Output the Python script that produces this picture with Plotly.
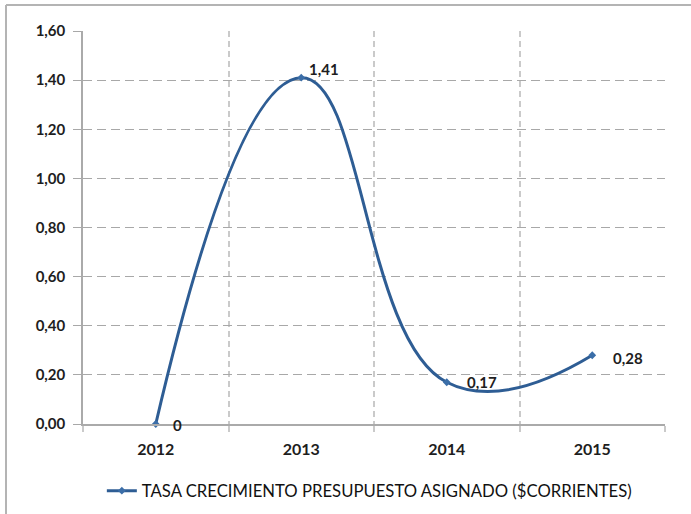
import plotly.graph_objects as go

years = ["2012", "2013", "2014", "2015"]
values = [0.0, 1.41, 0.17, 0.28]
labels = ["0", "1,41", "0,17", "0,28"]
series_name = "TASA CRECIMIENTO PRESUPUESTO ASIGNADO ($CORRIENTES)"
y_ticks = [0, 0.2, 0.4, 0.6, 0.8, 1.0, 1.2, 1.4, 1.6]

x = list(range(len(years)))
FONT = "Lato"
TXT = "#1e1e1e"
fig = go.Figure()
fig.add_trace(go.Scatter(
    x=x, y=values, mode="lines+markers",
    name=series_name,
    line=dict(color="#2e5d94", width=3, shape="spline", smoothing=1.3),
    marker=dict(color="#3b6ea8", size=6, symbol="diamond"),
    cliponaxis=False,
))

# data labels placed relative to each data point
label_shift = [(15, -1), (6, 9), (18, 0), (19, -3)]
annotations = []
for xi, yi, lab, (dx, dy) in zip(x, values, labels, label_shift):
    annotations.append(dict(x=xi, y=yi, xref="x", yref="y", text=lab, showarrow=False,
                            xanchor="left", yanchor="middle", xshift=dx, yshift=dy,
                            font=dict(family=FONT, size=15, color=TXT, weight="bold")))

left_edge = (6 - 83) / 582
top_edge = (424 - 5) / 393
fig.update_layout(
    width=691, height=514,
    margin=dict(l=83, r=26, t=31, b=90, autoexpand=False),
    paper_bgcolor="white", plot_bgcolor="white",
    separators=",.",
    font=dict(family=FONT, size=13, color=TXT),
    showlegend=True,
    annotations=annotations,
    legend=dict(orientation="h", x=0.492, xanchor="center", y=-0.17, yanchor="middle",
                font=dict(family=FONT, size=16.7, color="#111111")),
    xaxis=dict(
        range=[-0.5, 3.5], tickvals=x, ticktext=years,
        showgrid=False, zeroline=False, automargin=False,
        showline=True, linecolor="#aaaaaa", linewidth=1.5,
        ticks="", ticklabelstandoff=10,
        tickfont=dict(family=FONT, size=16, color=TXT, weight="bold"),
        minor=dict(tick0=0.5, dtick=1, showgrid=True, gridcolor="#cacaca", griddash="6px,4px",
                   gridwidth=2, ticks="outside", ticklen=6, tickcolor="#cacaca", tickwidth=2),
        fixedrange=True,
    ),
    yaxis=dict(
        range=[0, 1.6], tickvals=y_ticks, tickformat=".2f", automargin=False,
        showgrid=True, gridcolor="#a8a8a8", griddash="9px,5px", gridwidth=1.3,
        zeroline=False, showline=True, linecolor="#aaaaaa", linewidth=1.5,
        ticks="outside", ticklen=8, tickcolor="#a8a8a8", ticklabelstandoff=5,
        tickfont=dict(family=FONT, size=15, color=TXT, weight="bold"),
        fixedrange=True,
    ),
    shapes=[
        dict(type="line", xref="paper", yref="paper", x0=left_edge, x1=1.1,
             y0=top_edge, y1=top_edge, line=dict(color="#b4b4b4", width=2)),
        dict(type="line", xref="paper", yref="paper", x0=left_edge, x1=left_edge,
             y0=-0.4, y1=top_edge, line=dict(color="#b4b4b4", width=2)),
    ],
)
fig.write_html("out.html", config={"displayModeBar": False},
               post_script="document.body.style.margin='0';")
